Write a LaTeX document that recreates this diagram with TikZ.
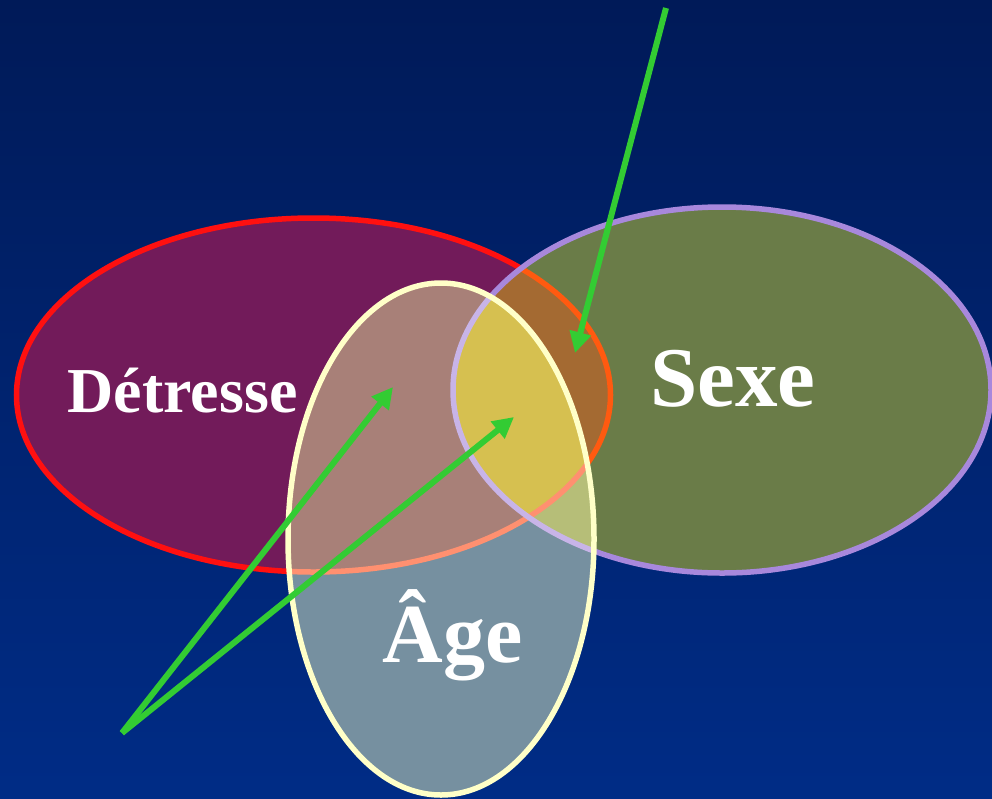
\documentclass[tikz,border=0pt]{standalone}
\usepackage{fontspec}
\setmainfont{Liberation Serif}
\usetikzlibrary{arrows.meta}
\definecolor{bgtop}{HTML}{001A58}
\definecolor{bgmid}{HTML}{002E8A}
\definecolor{bgbot}{HTML}{002C86}
\definecolor{colD}{HTML}{721B5A}
\definecolor{colS}{HTML}{6A7C48}
\definecolor{colDS}{HTML}{A46A32}
\definecolor{colA}{HTML}{7690A0}
\definecolor{colAD}{HTML}{A88078}
\definecolor{colAS}{HTML}{B6BE78}
\definecolor{colADS}{HTML}{D6C050}
\definecolor{lineD}{HTML}{FF1010}
\definecolor{lineDS}{HTML}{FF5A10}
\definecolor{lineDA}{HTML}{FF9070}
\definecolor{lineS}{HTML}{A888DC}
\definecolor{lineSA}{HTML}{C8B4E8}
\definecolor{lineA}{HTML}{FFFFC8}
\definecolor{arrowgreen}{HTML}{33CC33}
\tikzset{
  Dshape/.style={insert path={(313.5,395) ellipse [x radius=297, y radius=177]}},
  Sshape/.style={insert path={(722,390) ellipse [x radius=269, y radius=183]}},
  Ashape/.style={insert path={(441,539) ellipse [x radius=153, y radius=256]}},
  outline/.style={line width=5.5pt},
  label/.style={text=white, font=\bfseries, inner sep=0pt, anchor=base},
  pointer/.style={draw=arrowgreen, line width=6pt, -{Triangle[length=21pt,width=21pt]}}
}
\begin{document}
\begin{tikzpicture}[x=1pt,y=-1pt]
\useasboundingbox (0,0) rectangle (992,798);
\shade[top color=bgtop, middle color=bgmid, bottom color=bgbot] (0,0) rectangle (992,798);
% Detresse
\fill[colD, Dshape];
\draw[lineD, outline, Dshape];
% Sexe
\fill[colS, Sshape];
\begin{scope}
  \clip[Dshape];
  \fill[colDS, Sshape];
\end{scope}
\begin{scope}
  \clip[Sshape];
  \draw[lineDS, outline, Dshape];
\end{scope}
\draw[lineS, outline, Sshape];
% Age
\fill[colA, Ashape];
\begin{scope}
  \clip[Ashape];
  \begin{scope}
    \clip[Dshape];
    \fill[colAD, Ashape];
  \end{scope}
  \begin{scope}
    \clip[Sshape];
    \fill[colAS, Ashape];
    \clip[Dshape];
    \fill[colADS, Ashape];
  \end{scope}
  \draw[lineDA, outline, Dshape];
  \draw[lineSA, outline, Sshape];
\end{scope}
\draw[lineA, outline, Ashape];
% labels
\node[label, font=\bfseries\fontsize{64}{64}\selectfont] (det) at (182.5,412) {Détresse};
\node[label, font=\bfseries\fontsize{85}{85}\selectfont] (sexe) at (733,406) {Sexe};
\node[label, font=\bfseries\fontsize{84}{84}\selectfont] (age) at (452.5,662) {Âge};
% arrows
\coordinate (topstart) at (666,8);
\coordinate (topend) at (575,353);
\coordinate (botstart) at (122,733);
\coordinate (tipDA) at (393,387);
\coordinate (tipDSA) at (514,417);
\draw[pointer] (topstart) -- (topend);
\draw[pointer] (botstart) -- (tipDA);
\draw[pointer] (botstart) -- (tipDSA);
\end{tikzpicture}
\end{document}
